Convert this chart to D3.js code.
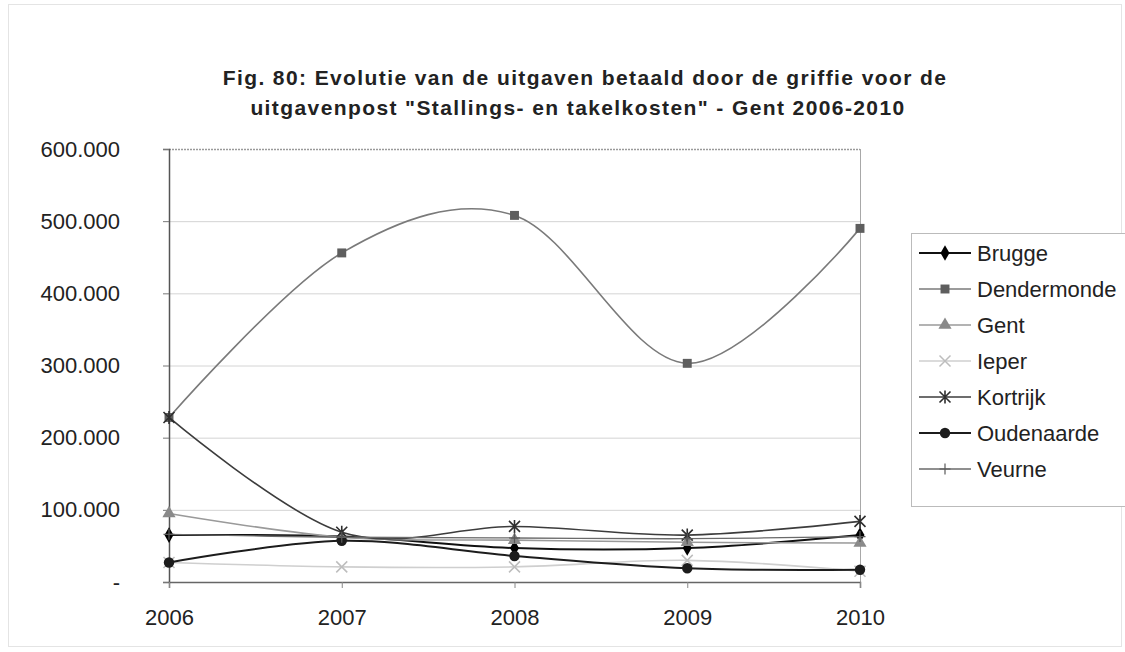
<!DOCTYPE html>
<html>
<head>
<meta charset="utf-8">
<script src="https://cdn.jsdelivr.net/npm/d3@7/dist/d3.min.js"></script>
<style>
  body { margin: 0; background: #fff; }
  text { font-family: "Liberation Sans", Arial, sans-serif; fill: #222; }
</style>
</head>
<body>
<div id="chart"></div>
<script>
// Data (euro)
const years = ["2006", "2007", "2008", "2009", "2010"];
const yTicks = [0, 100000, 200000, 300000, 400000, 500000, 600000];

const brugge = [65000, 63000, 47000, 47000, 65000];
const dendermonde = [228000, 456000, 508000, 303000, 490000];
const gent = [95000, 62000, 58000, 55000, 54000];
const ieper = [27000, 21000, 21000, 30000, 15000];
const kortrijk = [228000, 69000, 77000, 65000, 84000];
const oudenaarde = [27000, 57000, 36000, 19000, 17000];
const veurne = [66000, 62000, 61000, 60000, 63000];

const seriesNames = ["Brugge", "Dendermonde", "Gent", "Ieper", "Kortrijk", "Oudenaarde", "Veurne"];
const seriesValues = [brugge, dendermonde, gent, ieper, kortrijk, oudenaarde, veurne];

// marker shapes and greys, one per series
const style = [
  { line: "#111", mark: "#000", shape: "diamond", width: 2 },
  { line: "#7a7a7a", mark: "#5e5e5e", shape: "square", width: 1.6 },
  { line: "#9a9a9a", mark: "#8a8a8a", shape: "triangle", width: 1.6 },
  { line: "#cfcfcf", mark: "#bdbdbd", shape: "x", width: 1.6 },
  { line: "#3c3c3c", mark: "#2e2e2e", shape: "star", width: 1.6 },
  { line: "#1c1c1c", mark: "#1c1c1c", shape: "circle", width: 2 },
  { line: "#6a6a6a", mark: "#5a5a5a", shape: "plus", width: 1.3 },
];

const W = 1125, H = 652;
const plot = { left: 169, right: 860, top: 149, bottom: 582 };

const svg = d3.select("#chart").append("svg")
  .attr("width", W)
  .attr("height", H);

// faint outer chart border
svg.append("rect")
  .attr("x", 8.5).attr("y", 4.5)
  .attr("width", W - 12).attr("height", H - 10)
  .attr("fill", "none")
  .attr("stroke", "#e4e4e4");

// Title
const title = svg.append("text")
  .attr("text-anchor", "middle")
  .style("font-weight", "bold")
  .style("font-size", "21px")
  .style("letter-spacing", "1.4px");
title.append("tspan").attr("x", 585).attr("y", 85)
  .text("Fig. 80: Evolutie van de uitgaven betaald door de griffie voor de");
title.append("tspan").attr("x", 578).attr("y", 115)
  .text("uitgavenpost \"Stallings- en takelkosten\" - Gent 2006-2010");

const x = d3.scalePoint()
  .domain(years)
  .range([plot.left, plot.right]);

const y = d3.scaleLinear()
  .domain([0, 600000])
  .range([plot.bottom, plot.top]);

const chart = svg.append("g");

// horizontal grid lines
chart.append("g")
  .selectAll("line")
  .data(yTicks.filter(d => d > 0))
  .join("line")
  .attr("x1", plot.left).attr("x2", plot.right)
  .attr("y1", d => y(d) + 0.5).attr("y2", d => y(d) + 0.5)
  .attr("stroke", d => d === 600000 ? "#9a9a9a" : "#d4d4d4")
  .attr("stroke-width", d => d === 600000 ? 1.5 : 1)
  .attr("stroke-dasharray", d => d === 600000 ? "2,1" : null);

// right border of plot area
chart.append("line")
  .attr("x1", plot.right + 0.5).attr("x2", plot.right + 0.5)
  .attr("y1", plot.top).attr("y2", plot.bottom)
  .attr("stroke", "#a8a8a8");

// y axis
const fmt = d => d === 0 ? "-" : d3.format(",")(d).replace(/,/g, ".");
const yAxis = d3.axisLeft(y)
  .tickValues(yTicks)
  .tickSize(6)
  .tickPadding(43)
  .tickFormat(fmt);
chart.append("g")
  .attr("transform", `translate(${plot.left},0)`)
  .call(yAxis)
  .call(g => g.select(".domain").attr("stroke", "#555").attr("stroke-width", 1.5))
  .call(g => g.selectAll(".tick line").attr("stroke", "#777"))
  .call(g => g.selectAll(".tick text")
    .style("font-size", "22px")
    .attr("fill", "#222"));

// x axis
const xAxis = d3.axisBottom(x)
  .tickSize(6)
  .tickPadding(21);
chart.append("g")
  .attr("transform", `translate(0,${plot.bottom})`)
  .call(xAxis)
  .call(g => g.select(".domain").attr("stroke", "#666").attr("stroke-width", 1.5))
  .call(g => g.selectAll(".tick line").attr("stroke", "#888"))
  .call(g => g.selectAll(".tick text")
    .style("font-size", "22px")
    .attr("fill", "#222"));

// marker drawing
function marker(sel, shape, color) {
  const s = 5.5;
  if (shape === "diamond") {
    sel.append("path").attr("d", d3.symbol(d3.symbolDiamond, 70)()).attr("fill", color);
  } else if (shape === "square") {
    sel.append("path").attr("d", d3.symbol(d3.symbolSquare, 80)()).attr("fill", color);
  } else if (shape === "triangle") {
    sel.append("path").attr("d", d3.symbol(d3.symbolTriangle, 75)()).attr("fill", color);
  } else if (shape === "circle") {
    sel.append("path").attr("d", d3.symbol(d3.symbolCircle, 85)()).attr("fill", color);
  } else if (shape === "x") {
    sel.append("path").attr("d", `M${-s},${-s}L${s},${s}M${-s},${s}L${s},${-s}`)
      .attr("stroke", color).attr("stroke-width", 1.5).attr("fill", "none");
  } else if (shape === "star") {
    sel.append("path")
      .attr("d", `M${-s},${-s}L${s},${s}M${-s},${s}L${s},${-s}M0,${-s - 1}L0,${s + 1}`)
      .attr("stroke", color).attr("stroke-width", 1.6).attr("fill", "none");
  } else if (shape === "plus") {
    sel.append("path").attr("d", `M0,${-s}L0,${s}M${-s},0L${s},0`)
      .attr("stroke", color).attr("stroke-width", 1.2).attr("fill", "none");
  }
}

const line = d3.line()
  .x((d, i) => x(years[i]))
  .y(d => y(d))
  .curve(d3.curveCardinal.tension(0));

// draw series
seriesValues.forEach((vals, k) => {
  const st = style[k];
  chart.append("path")
    .datum(vals)
    .attr("fill", "none")
    .attr("stroke", st.line)
    .attr("stroke-width", st.width)
    .attr("d", line);
  chart.append("g")
    .selectAll("g")
    .data(vals)
    .join("g")
    .attr("transform", (d, i) => `translate(${x(years[i])},${y(d)})`)
    .each(function () { marker(d3.select(this), st.shape, st.mark); });
});

// legend
const legend = svg.append("g").attr("transform", "translate(911,233)");
legend.append("rect")
  .attr("x", 0.5).attr("y", 0.5)
  .attr("width", 216).attr("height", 273)
  .attr("fill", "#fff")
  .attr("stroke", "#bbb");

const item = legend.selectAll("g.item")
  .data(seriesNames)
  .join("g")
  .attr("class", "item")
  .attr("transform", (d, i) => `translate(0,${20 + i * 36})`);

item.append("line")
  .attr("x1", 8).attr("x2", 60)
  .attr("stroke", (d, i) => style[i].line)
  .attr("stroke-width", (d, i) => style[i].width);

item.append("g")
  .attr("transform", "translate(34,0)")
  .each(function (d, i) { marker(d3.select(this), style[i].shape, style[i].mark); });

item.append("text")
  .attr("x", 66)
  .attr("dy", "0.36em")
  .style("font-size", "22px")
  .text(d => d);
</script>
</body>
</html>
